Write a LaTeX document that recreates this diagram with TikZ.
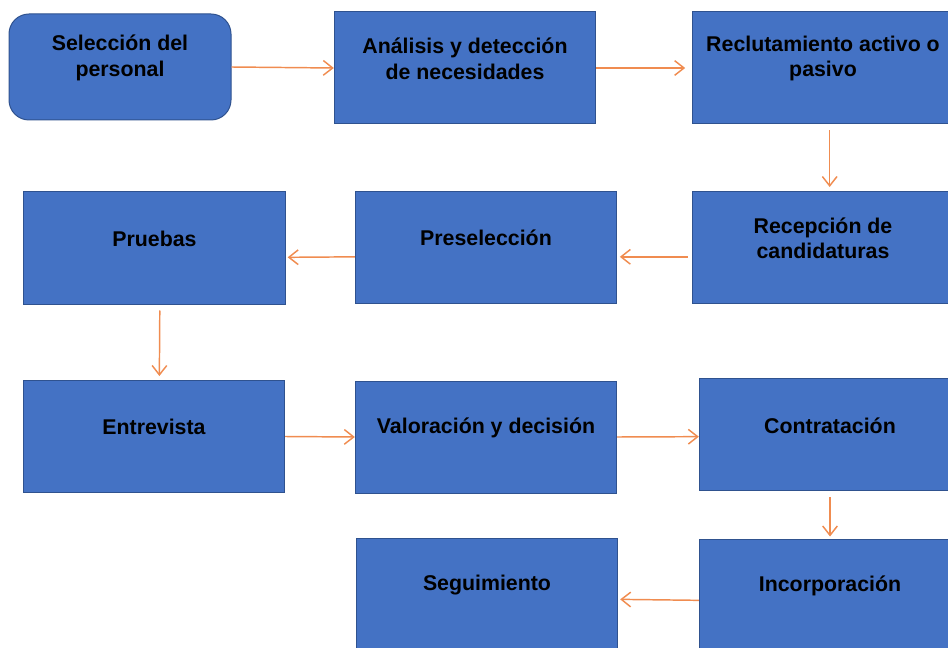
\documentclass[tikz,border=0pt]{standalone}
\usepackage{fontspec}
\setmainfont{Liberation Sans}
\usetikzlibrary{arrows.meta}

\definecolor{boxfill}{RGB}{68,114,196}
\definecolor{boxline}{RGB}{47,82,143}
\definecolor{flecha}{RGB}{240,140,80}

\tikzset{
  caja/.style={draw=boxline, line width=0.75pt, fill=boxfill, inner sep=0pt,
    minimum width=196pt, minimum height=84pt},
  txt/.style={align=center, text=black, font=\bfseries\fontsize{16}{19.2}\selectfont},
  flujo/.style={draw=flecha, line width=1.1pt, -{Straight Barb[length=7pt,width=11pt]}}
}

\begin{document}
\begin{tikzpicture}[x=0.75pt,y=0.75pt,yscale=-1,xscale=1]
\useasboundingbox (0,0) rectangle (948,648);
\clip (0,0) rectangle (948,648);

% Cajas
\node[caja, rounded corners=15pt, minimum width=166.5pt, minimum height=79.5pt,
  label={[txt,yshift=7pt]center:{Selección del\\personal}}] (sel) at (120,67) {};
\node[caja, label={[txt,yshift=7pt]center:{Análisis y detección\\de necesidades}}] (ana) at (465,68) {};
\node[caja, label={[txt,yshift=7pt]center:{Reclutamiento activo o\\pasivo}}] (rec) at (823,68) {};
\node[caja, label={[txt,yshift=7pt]center:{Recepción de\\candidaturas}}] (rcp) at (823,247.5) {};
\node[caja, label={[txt,yshift=7pt]center:{Preselección}}] (pre) at (486,247.5) {};
\node[caja, label={[txt,yshift=7pt]center:{Pruebas}}] (pru) at (154.5,248) {};
\node[caja, label={[txt,yshift=7pt]center:{Entrevista}}] (ent) at (154,436.5) {};
\node[caja, label={[txt,yshift=7pt]center:{Valoración y decisión}}] (val) at (486,437) {};
\node[caja, label={[txt,yshift=6pt]center:{Contratación}}] (con) at (830,434) {};
\node[caja, label={[txt,yshift=7pt]center:{Incorporación}}] (inc) at (830,595) {};
\node[caja, label={[txt,yshift=7pt]center:{Seguimiento}}] (seg) at (487,594) {};

% Flechas
\draw[flujo] (sel.east) -- (ana.west);
\draw[flujo, shorten >=5pt] (ana.east) -- (rec.west);
\draw[flujo, shorten <=4.5pt, shorten >=3pt] ([xshift=5pt]rec.south) -- ([xshift=5pt]rcp.north);
\draw[flujo, shorten <=3pt, shorten >=2pt] ([yshift=7pt]rcp.west) -- ([yshift=7pt]pre.east);
\draw[flujo, shorten >=1.5pt] ([yshift=7pt]pre.west) -- ([yshift=7pt]pru.east);
\draw[flujo, shorten <=4.5pt, shorten >=3pt] ([xshift=4pt]pru.south) -- ([xshift=4pt]ent.north);
\draw[flujo] (ent.east) -- (val.west);
\draw[flujo] (val.east) -- ([yshift=2pt]con.west);
\draw[flujo, shorten <=5pt, shorten >=1.5pt] (con.south) -- (inc.north);
\draw[flujo, shorten >=1.5pt] ([yshift=4pt]inc.west) -- ([yshift=4pt]seg.east);

\end{tikzpicture}
\end{document}
